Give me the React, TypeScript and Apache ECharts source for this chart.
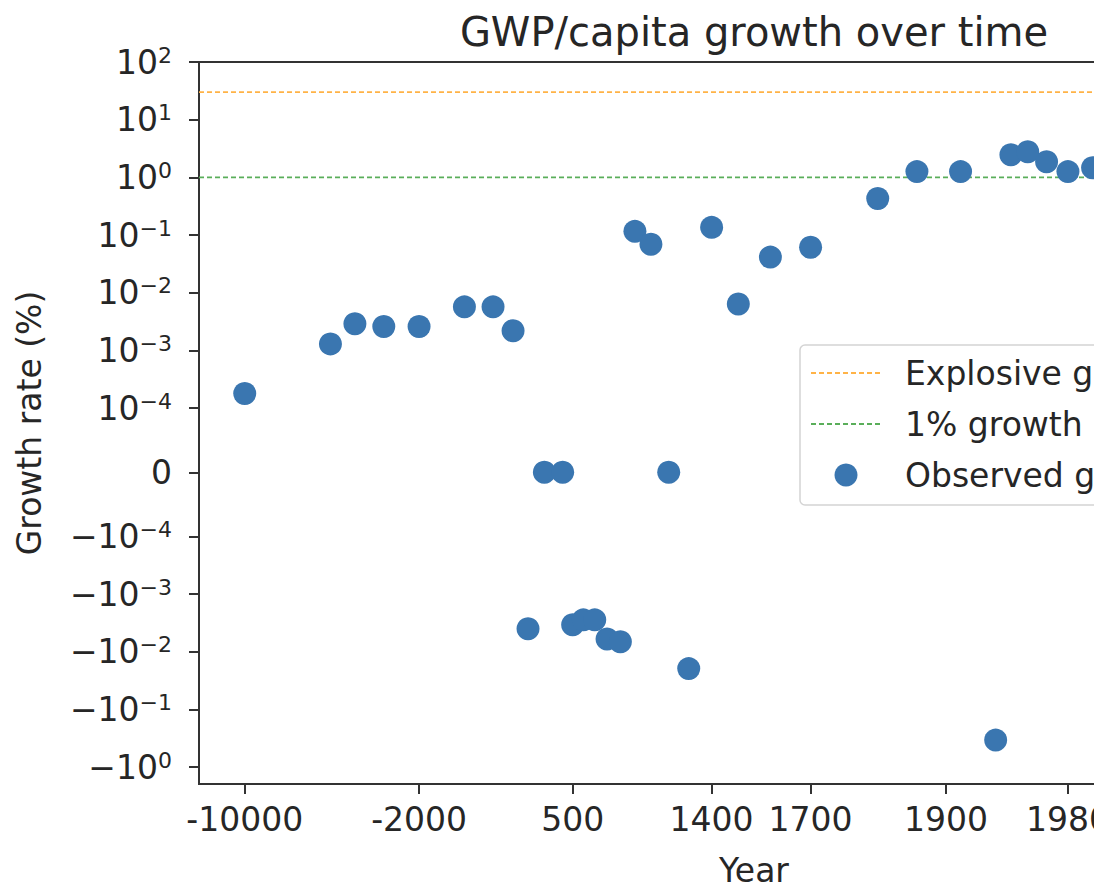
import React, { useEffect, useRef } from "react";
import * as echarts from "echarts";

// ---- data ----
const YEARS = [
  -10000, -5000, -4000, -3000, -2000, -1000, -500, -200, 1, 200, 400, 500, 600, 700, 800, 900,
  1000, 1100, 1200, 1300, 1400, 1500, 1600, 1700, 1820, 1870, 1913, 1940, 1950, 1960, 1970, 1980, 1990,
];
const GROWTH = [
  1.8e-4, 1.3e-3, 2.9e-3, 2.6e-3, 2.6e-3, 5.7e-3, 5.7e-3, 2.2e-3, -4.0e-3, 0, 0, -3.4e-3, -2.8e-3,
  -2.8e-3, -6.0e-3, -6.7e-3, 0.116, 0.0695, 0, -0.0196, 0.136, 6.4e-3, 0.0415, 0.0617, 0.43, 1.26,
  1.26, -0.34, 2.47, 2.79, 1.87, 1.26, 1.47,
];
const X_TICK_YEARS = [-10000, -2000, 500, 1400, 1700, 1900, 1980];
const Y_TICKS = [100, 10, 1, 0.1, 0.01, 0.001, 0.0001, 0, -0.0001, -0.001, -0.01, -0.1, -1];
const EXPLOSIVE_GROWTH = 30;
const ONE_PCT_GROWTH = 1;
const X_RANGE = [-13990, 2034.5];
const Y_RANGE = [-1.96, 100];
const REF_YEAR = 2050;
const LINTHRESH = 1e-4;

// ---- scales ----
const xPos = (year: number) => -Math.log10(REF_YEAR - year);
const LINSCALE = 1 / (1 - 1 / 10);
const yPos = (v: number) => {
  const a = Math.abs(v);
  if (a <= LINTHRESH) return (v / LINTHRESH) * LINSCALE;
  return Math.sign(v) * (LINSCALE + Math.log10(a / LINTHRESH));
};

const FONT = "DejaVu Sans";
const TXT = "#262626";
const AX = "#333333";
const FS = 33;

const nearest = (arr: number[], f: (x: number) => number, val: number) => {
  let best = arr[0];
  let bd = Infinity;
  for (const t of arr) {
    const d = Math.abs(f(t) - val);
    if (d < bd) {
      bd = d;
      best = t;
    }
  }
  return best;
};

export default function App() {
  const ref = useRef<HTMLDivElement>(null);
  useEffect(() => {
    if (!ref.current) return;
    const chart = echarts.init(ref.current, undefined, { renderer: "svg" });
    const xMin = xPos(X_RANGE[0]);
    const xMax = xPos(X_RANGE[1]);
    const option = {
      animation: false,
      backgroundColor: "#ffffff",
      graphic: [
        {
          type: "text",
          x: 754,
          y: 32,
          style: {
            text: "GWP/capita growth over time",
            font: `40px "${FONT}"`,
            fill: TXT,
            textAlign: "center",
            textVerticalAlign: "middle",
          },
        },
      ],
      grid: {
        left: 199,
        top: 62,
        width: 1110,
        height: 726,
        show: true,
        borderColor: AX,
        borderWidth: 2,
        backgroundColor: "transparent",
      },
      legend: {
        orient: "vertical",
        left: 800,
        top: 345,
        padding: [11, 30, 13, 10],
        itemGap: 17,
        itemWidth: 70,
        itemHeight: 23,
        backgroundColor: "rgba(255,255,255,0.85)",
        borderColor: "#d4d4d4",
        borderWidth: 1.5,
        borderRadius: 5,
        textStyle: {
          fontFamily: FONT,
          fontSize: FS,
          color: TXT,
          lineHeight: 34,
          padding: [0, 0, 0, 19],
        },
        data: [
          { name: "Explosive growth", itemStyle: { opacity: 0, borderWidth: 0 } },
          { name: "1% growth", itemStyle: { opacity: 0, borderWidth: 0 } },
          { name: "Observed growth", icon: "circle" },
        ],
      },
      xAxis: {
        type: "value",
        min: xMin,
        max: xMax,
        name: "Year",
        nameLocation: "middle",
        nameGap: 70,
        nameTextStyle: { fontFamily: FONT, fontSize: FS, color: TXT },
        axisLine: { show: false, onZero: false },
        splitLine: { show: false },
        axisTick: {
          show: true,
          length: 10,
          lineStyle: { color: AX, width: 2 },
          customValues: X_TICK_YEARS.map(xPos),
        },
        axisLabel: {
          fontFamily: FONT,
          fontSize: FS,
          color: TXT,
          margin: 19,
          customValues: X_TICK_YEARS.map(xPos),
          formatter: (v: number) => String(nearest(X_TICK_YEARS, xPos, v)),
        },
      },
      yAxis: {
        type: "value",
        min: yPos(Y_RANGE[0]),
        max: yPos(Y_RANGE[1]),
        name: "Growth rate (%)",
        nameLocation: "middle",
        nameGap: 153,
        nameTextStyle: { fontFamily: FONT, fontSize: FS, color: TXT },
        axisLine: { show: false, onZero: false },
        splitLine: { show: false },
        axisTick: {
          show: true,
          length: 10,
          lineStyle: { color: AX, width: 2 },
          customValues: Y_TICKS.map(yPos),
        },
        axisLabel: {
          margin: 27,
          customValues: Y_TICKS.map(yPos),
          formatter: (v: number) => {
            const t = nearest(Y_TICKS, yPos, v);
            if (t === 0) return "{b|0}";
            const e = Math.round(Math.log10(Math.abs(t)));
            const sign = t < 0 ? "\u2212" : "";
            const es = e < 0 ? "\u2212" + -e : String(e);
            return `{b|${sign}10}{s|${es}}`;
          },
          rich: {
            b: { fontFamily: FONT, fontSize: FS, color: TXT, lineHeight: 36 },
            s: { fontFamily: FONT, fontSize: 22, color: TXT, lineHeight: 26, verticalAlign: "top" },
          },
        },
      },
      series: [
        {
          name: "Explosive growth",
          type: "line",
          symbol: "none",
          data: [
            [xMin, yPos(EXPLOSIVE_GROWTH)],
            [xMax, yPos(EXPLOSIVE_GROWTH)],
          ],
          lineStyle: { color: "#ffb347", width: 1.6, type: [5, 3] },
          itemStyle: { color: "#ffb347" },
          z: 1,
        },
        {
          name: "1% growth",
          type: "line",
          symbol: "none",
          data: [
            [xMin, yPos(ONE_PCT_GROWTH)],
            [xMax, yPos(ONE_PCT_GROWTH)],
          ],
          lineStyle: { color: "#5aae5a", width: 1.6, type: [5, 3] },
          itemStyle: { color: "#5aae5a" },
          z: 1,
        },
        {
          name: "Observed growth",
          type: "scatter",
          symbol: "circle",
          symbolSize: 23,
          itemStyle: { color: "#3a76b0", opacity: 1 },
          data: YEARS.map((y, i) => [xPos(y), yPos(GROWTH[i])]),
          z: 3,
        },
      ],
    };
    chart.setOption(option as any);
    return () => chart.dispose();
  }, []);
  return (
    <div style={{ position: "absolute", left: 0, top: 0, width: 1114, height: 892, background: "#fff" }}>
      <div style={{ position: "absolute", left: 0, top: 0, width: 1094, height: 892, overflow: "hidden" }}>
        <div ref={ref} style={{ width: 1400, height: 892 }} />
      </div>
    </div>
  );
}
